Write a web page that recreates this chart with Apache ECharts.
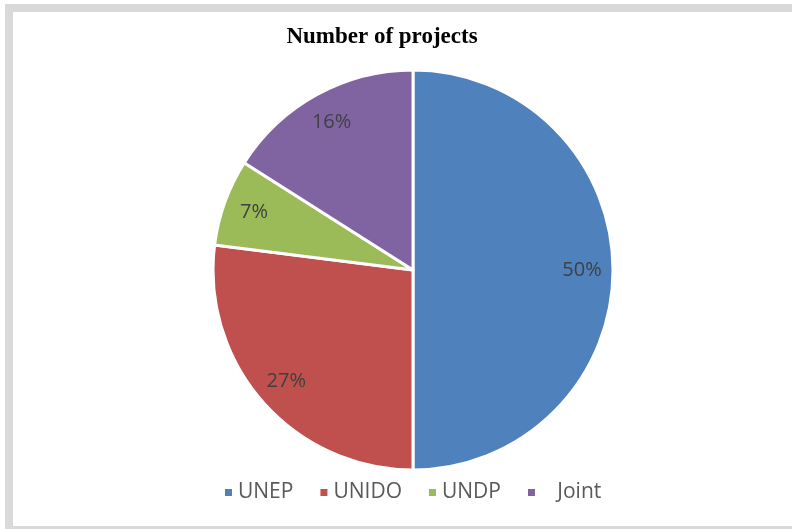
<!DOCTYPE html>
<html>
<head>
<meta charset="utf-8">
<script src="https://cdn.jsdelivr.net/npm/echarts@6/dist/echarts.min.js"></script>
<style>
html,body{margin:0;padding:0;background:#fff;}
#c{width:792px;height:529px;}
</style>
</head>
<body>
<div id="c"></div>
<script>
const categories = ['UNEP', 'UNIDO', 'UNDP', 'Joint'];
const shares = [50, 27, 7, 16];
const colors = ['#4f81bd', '#c0504d', '#9bbb59', '#8064a2'];

const data = categories.map((n, i) => ({ name: n, value: shares[i], itemStyle: { color: colors[i] } }));

const chart = echarts.init(document.getElementById('c'));
chart.setOption({
  animation: false,
  graphic: [
    { type: 'rect', shape: { x: 5, y: 4, width: 800, height: 540 }, style: { fill: '#d9d9d9' }, silent: true, z: -10 },
    { type: 'rect', shape: { x: 13, y: 12, width: 800, height: 514 }, style: { fill: '#ffffff' }, silent: true, z: -9 }
  ],
  title: {
    text: 'Number of projects',
    left: 377, top: 21, textAlign: 'center',
    textStyle: { fontFamily: 'Liberation Serif', fontWeight: 'bold', fontSize: 23, color: '#000' }
  },
  legend: {
    data: categories,
    top: 477,
    left: 218,
    icon: 'rect',
    itemWidth: 9, itemHeight: 9,
    itemGap: 25,
    formatter: n => n === 'Joint' ? '   Joint' : n,
    textStyle: { fontFamily: 'Open Sans', fontSize: 21, color: '#595959' }
  },
  series: [
    {
      type: 'pie',
      center: [413, 270],
      radius: [0, 200],
      startAngle: 90,
      clockwise: true,
      data: data,
      label: { show: false },
      labelLine: { show: false },
      itemStyle: { borderColor: '#fff', borderWidth: 3 },
      emphasis: { disabled: true }
    },
    {
      type: 'pie',
      center: [413, 270],
      radius: [132, 200],
      startAngle: 90,
      clockwise: true,
      silent: true,
      data: categories.map((n, i) => ({ name: n, value: shares[i], itemStyle: { color: 'rgba(0,0,0,0)' } })),
      itemStyle: { borderWidth: 0 },
      label: {
        show: true,
        position: 'inside',
        formatter: p => p.value + '%',
        fontFamily: 'Open Sans', fontSize: 20, color: '#404040'
      },
      labelLine: { show: false },
      emphasis: { disabled: true },
      legendHoverLink: false
    }
  ]
});
</script>
</body>
</html>
